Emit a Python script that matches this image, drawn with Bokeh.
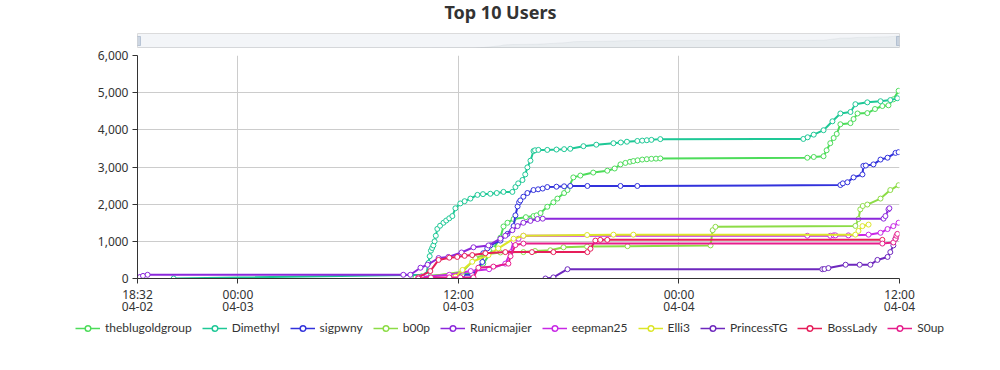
import pandas as pd
from bokeh.plotting import figure
from bokeh.models import (ColumnDataSource, FixedTicker, Legend, LegendItem,
                          Range1d, Label)
from bokeh.embed import file_html
from bokeh.resources import INLINE

YEAR = "2024"
FONT = "Noto Sans"
LEGEND_FONT = "Lato"

names = ["theblugoldgroup", "Dimethyl", "sigpwny", "b00p", "Runicmajier",
         "eepman25", "Elli3", "PrincessTG", "BossLady", "S0up"]
colors = ["#4ddc5a", "#1ec896", "#3232dc", "#8cdc46", "#8c28dc",
          "#c828e6", "#dce628", "#6e28be", "#e61e5a", "#e61e8c"]

theblugoldgroup_t = ["04-03 09:40", "04-03 10:00", "04-03 12:45", "04-03 13:21", "04-03 13:54", "04-03 14:17",
                     "04-03 14:27", "04-03 14:40", "04-03 15:00", "04-03 15:40", "04-03 16:05", "04-03 16:15",
                     "04-03 16:28", "04-03 16:50", "04-03 17:10", "04-03 17:23", "04-03 17:45", "04-03 17:56",
                     "04-03 18:15", "04-03 18:38", "04-03 19:20", "04-03 20:06", "04-03 20:30", "04-03 20:49",
                     "04-03 21:05", "04-03 21:20", "04-03 21:31", "04-03 21:45", "04-03 22:00", "04-03 22:15",
                     "04-03 22:30", "04-03 22:45", "04-03 22:59", "04-04 06:59", "04-04 07:20", "04-04 07:52",
                     "04-04 08:02", "04-04 08:14", "04-04 08:25", "04-04 08:35", "04-04 08:47", "04-04 09:20",
                     "04-04 09:30", "04-04 09:43", "04-04 10:15", "04-04 10:40", "04-04 11:04", "04-04 11:24",
                     "04-04 11:40", "04-04 11:57"]
theblugoldgroup_v = [30, 60, 150, 400, 800, 1100, 1400, 1500, 1600, 1650, 1680, 1700, 1760, 1930, 2050, 2150,
                     2300, 2380, 2720, 2770, 2850, 2900, 2960, 3070, 3110, 3140, 3160, 3180, 3200, 3210, 3220,
                     3225, 3230, 3250, 3270, 3290, 3450, 3640, 3780, 3890, 4150, 4180, 4290, 4440, 4450, 4560,
                     4640, 4660, 4820, 5050]

dimethyl_t = ["04-02 20:30", "04-03 10:15", "04-03 10:22", "04-03 10:26", "04-03 10:30", "04-03 10:34",
              "04-03 10:38", "04-03 10:42", "04-03 10:46", "04-03 10:51", "04-03 11:00", "04-03 11:11",
              "04-03 11:20", "04-03 11:30", "04-03 11:40", "04-03 11:50", "04-03 12:06", "04-03 12:20",
              "04-03 12:39", "04-03 13:02", "04-03 13:20", "04-03 13:44", "04-03 14:05", "04-03 14:27",
              "04-03 14:56", "04-03 15:06", "04-03 15:15", "04-03 15:29", "04-03 15:38", "04-03 15:45",
              "04-03 15:55", "04-03 16:05", "04-03 16:10", "04-03 16:21", "04-03 16:50", "04-03 17:20",
              "04-03 17:45", "04-03 18:05", "04-03 18:48", "04-03 19:30", "04-03 20:26", "04-03 20:50",
              "04-03 21:10", "04-03 21:44", "04-03 22:00", "04-03 22:15", "04-03 22:30", "04-03 22:59",
              "04-04 06:46", "04-04 07:00", "04-04 07:20", "04-04 07:52", "04-04 08:21", "04-04 08:47",
              "04-04 09:20", "04-04 09:36", "04-04 10:15", "04-04 10:58", "04-04 11:30", "04-04 11:53"]
dimethyl_v = [0, 100, 420, 600, 750, 820, 890, 1000, 1150, 1335, 1420, 1500, 1560, 1620, 1680, 1890, 2020,
              2080, 2150, 2250, 2270, 2280, 2300, 2330, 2330, 2460, 2560, 2650, 2800, 2990, 3170, 3430, 3450,
              3460, 3460, 3470, 3480, 3490, 3560, 3600, 3640, 3660, 3680, 3700, 3710, 3720, 3730, 3750, 3755,
              3800, 3870, 3990, 4230, 4440, 4480, 4690, 4740, 4770, 4800, 4850]

sigpwny_t = ["04-03 12:13", "04-03 12:45", "04-03 13:18", "04-03 13:21", "04-03 13:34", "04-03 13:44",
             "04-03 14:17", "04-03 14:40", "04-03 15:00", "04-03 15:06", "04-03 15:13", "04-03 15:18",
             "04-03 15:22", "04-03 15:32", "04-03 15:45", "04-03 16:05", "04-03 16:20", "04-03 16:35",
             "04-03 16:50", "04-03 17:20", "04-03 17:45", "04-03 18:05", "04-03 19:01", "04-03 20:49",
             "04-03 21:44", "04-04 08:47", "04-04 08:55", "04-04 09:10", "04-04 09:30", "04-04 09:59",
             "04-04 10:02", "04-04 10:10", "04-04 10:35", "04-04 10:58", "04-04 11:21", "04-04 11:47",
             "04-04 11:57"]
sigpwny_v = [100, 100, 445, 680, 810, 890, 1020, 1200, 1410, 1700, 1940, 2050, 2100, 2200, 2300, 2380, 2400,
             2420, 2460, 2470, 2480, 2490, 2490, 2490, 2490, 2515, 2560, 2590, 2720, 2800, 3030, 3040, 3070,
             3200, 3250, 3380, 3400]

b00p_t = ["04-03 10:00", "04-03 12:13", "04-03 12:55", "04-03 13:30", "04-03 14:17", "04-03 15:32",
          "04-03 16:10", "04-03 17:00", "04-03 17:43", "04-03 19:00", "04-03 21:12", "04-04 01:43",
          "04-04 01:50", "04-04 01:59", "04-04 09:36", "04-04 09:46", "04-04 09:52", "04-04 10:00",
          "04-04 10:15", "04-04 10:58", "04-04 11:30", "04-04 11:57"]
b00p_v = [30, 180, 550, 650, 700, 710, 740, 760, 840, 860, 870, 890, 1300, 1390, 1415, 1600, 1860, 1950,
          1990, 2150, 2380, 2510]

runicmajier_t = ["04-02 18:32", "04-02 18:40", "04-02 18:50", "04-02 19:05", "04-03 09:00", "04-03 09:23",
                 "04-03 09:56", "04-03 10:19", "04-03 10:55", "04-03 11:27", "04-03 12:10", "04-03 12:49",
                 "04-03 13:38", "04-03 14:17", "04-03 14:33", "04-03 14:56", "04-03 15:13", "04-03 15:32",
                 "04-03 15:55", "04-03 16:18", "04-03 16:35", "04-04 11:08", "04-04 11:14", "04-04 11:24",
                 "04-04 11:27"]
runicmajier_v = [10, 40, 70, 100, 100, 100, 290, 370, 550, 580, 700, 840, 890, 1070, 1150, 1300, 1410, 1500,
                 1550, 1600, 1610, 1610, 1680, 1860, 1890]

eepman25_t = ["04-03 10:00", "04-03 11:30", "04-03 12:40", "04-03 13:40", "04-03 14:33", "04-03 14:50",
              "04-03 15:00", "04-03 15:16", "04-03 15:32", "04-04 06:59", "04-04 08:14", "04-04 08:25",
              "04-04 08:31", "04-04 09:13", "04-04 10:19", "04-04 10:58", "04-04 11:21", "04-04 11:40",
              "04-04 11:57"]
eepman25_v = [40, 100, 200, 250, 400, 700, 1000, 1070, 1150, 1150, 1150, 1160, 1160, 1160, 1180, 1230, 1330,
              1410, 1500]

elli3_t = ["04-03 11:50", "04-03 12:13", "04-03 12:45", "04-03 13:38", "04-03 14:10", "04-03 15:00",
           "04-03 15:32", "04-03 19:00", "04-03 20:26", "04-03 21:31", "04-04 09:36", "04-04 09:46",
           "04-04 09:59", "04-04 10:19"]
elli3_v = [50, 230, 450, 630, 810, 1070, 1150, 1170, 1180, 1180, 1180, 1280, 1410, 1450]

princesstg_t = ["04-03 16:44", "04-03 17:10", "04-03 17:56", "04-04 07:48", "04-04 07:55", "04-04 08:08",
                "04-04 09:04", "04-04 09:50", "04-04 10:25", "04-04 10:48", "04-04 11:21", "04-04 11:30",
                "04-04 11:40", "04-04 11:47"]
princesstg_v = [0, 30, 250, 250, 255, 280, 370, 370, 370, 500, 580, 710, 890, 1070]

bosslady_t = ["04-03 09:49", "04-03 10:28", "04-03 10:55", "04-03 11:30", "04-03 11:56", "04-03 12:20",
              "04-03 12:45", "04-03 13:28", "04-03 14:33", "04-03 16:00", "04-03 17:10", "04-03 19:01",
              "04-03 19:11", "04-03 19:27", "04-03 19:43", "04-03 20:06", "04-04 11:04"]
bosslady_v = [30, 200, 500, 560, 580, 610, 630, 680, 710, 710, 710, 710, 800, 1020, 1040, 1040, 1040]

s0up_t = ["04-03 09:49", "04-03 10:30", "04-03 11:30", "04-03 12:06", "04-03 12:49", "04-03 13:05",
          "04-03 13:54", "04-03 14:43", "04-03 14:50", "04-03 15:06", "04-03 15:32", "04-04 11:04",
          "04-04 11:40", "04-04 11:47", "04-04 11:50", "04-04 11:53"]
s0up_v = [0, 30, 30, 30, 30, 290, 320, 400, 600, 900, 940, 940, 970, 1070, 1150, 1200]

series_t = [theblugoldgroup_t, dimethyl_t, sigpwny_t, b00p_t, runicmajier_t,
            eepman25_t, elli3_t, princesstg_t, bosslady_t, s0up_t]
series_v = [theblugoldgroup_v, dimethyl_v, sigpwny_v, b00p_v, runicmajier_v,
            eepman25_v, elli3_v, princesstg_v, bosslady_v, s0up_v]

title_text = "Top 10 Users"
x_start = "04-02 18:32"
x_end = "04-04 12:00"
tick_times = ["04-02 18:32", "04-03 00:00", "04-03 12:00", "04-04 00:00", "04-04 12:00"]
tick_labels = ["18:32\n04-02", "00:00\n04-03", "12:00\n04-03", "00:00\n04-04", "12:00\n04-04"]
y_ticks = [0, 1000, 2000, 3000, 4000, 5000, 6000]
y_labels = ["0", "1,000", "2,000", "3,000", "4,000", "5,000", "6,000"]


def to_dt(items):
    return pd.to_datetime([YEAR + "-" + s for s in items], format="%Y-%m-%d %H:%M")


def to_ms(s):
    return pd.Timestamp(YEAR + "-" + s).value / 1e6


xr = Range1d(start=to_ms(x_start), end=to_ms(x_end))

W = 992
LEFT = 137
FRAME_W = 762
RIGHT = W - LEFT - FRAME_W


def bare(fig):
    fig.axis.visible = False
    fig.grid.visible = False
    fig.outline_line_color = None
    return fig


# ---- title strip ----
pt = bare(figure(width=W, height=33, x_range=Range1d(0, 1), y_range=Range1d(0, 1),
                 output_backend="svg", toolbar_location=None,
                 min_border_left=0, min_border_right=0, min_border_top=0, min_border_bottom=0))
pt.add_layout(Label(x=500, y=22, x_units="screen", y_units="screen", text=title_text,
                    text_align="center", text_baseline="middle", text_font=FONT,
                    text_font_size="18px", text_font_style="bold", text_color="#333333"))

# ---- data zoom slider ----
ps = figure(width=W, height=15, x_range=xr, y_range=Range1d(0, 1),
            output_backend="svg", toolbar_location=None,
            min_border_left=LEFT, min_border_right=RIGHT, min_border_top=0, min_border_bottom=0)
bare(ps)
ps.outline_line_color = "#dddddd"
shadow_x = to_dt(theblugoldgroup_t)
vmax = 6000.0
shadow = ColumnDataSource(dict(x=[xr.start] + list(shadow_x.astype("int64") / 1e6) + [xr.end],
                               y=[0] + [v / vmax for v in theblugoldgroup_v] + [theblugoldgroup_v[-1] / vmax]))
ps.varea(x="x", y1=0, y2="y", source=shadow, fill_color="#2f4554", fill_alpha=0.05)
ps.line("x", "y", source=shadow, line_color="#2f4554", line_alpha=0.12, line_width=0.5)
ps.quad(left=[xr.start], right=[xr.end], bottom=[0], top=[1],
        fill_color="#a7b7cc", fill_alpha=0.14, line_color=None)
hw = (xr.end - xr.start) / FRAME_W * 3
ps.quad(left=[xr.start - hw, xr.end - hw], right=[xr.start + hw, xr.end + hw],
        bottom=[0.2, 0.2], top=[0.8, 0.8], fill_color="#a7b7cc", fill_alpha=0.5,
        line_color="#8fa3bd", line_alpha=0.5)

# ---- main chart ----
p = figure(width=W, height=270, x_axis_type="datetime", x_range=xr,
           y_range=Range1d(0, 6000), output_backend="svg", toolbar_location=None,
           min_border_left=LEFT, min_border_right=RIGHT, min_border_top=7, min_border_bottom=34)
p.outline_line_color = None
p.background_fill_color = "white"

p.xaxis.ticker = FixedTicker(ticks=[to_ms(t) for t in tick_times])
p.xaxis.major_label_overrides = {to_ms(t): l for t, l in zip(tick_times, tick_labels)}
p.yaxis.ticker = FixedTicker(ticks=y_ticks)
p.yaxis.major_label_overrides = {t: l for t, l in zip(y_ticks, y_labels)}
for ax in (p.xaxis, p.yaxis):
    ax.axis_line_color = "#333333"
    ax.major_tick_line_color = "#333333"
    ax.major_tick_out = 5
    ax.major_tick_in = 0
    ax.minor_tick_line_color = None
    ax.major_label_text_color = "#333333"
    ax.major_label_text_font = FONT
    ax.major_label_text_font_size = "12px"
p.xaxis.major_label_text_line_height = 0.75
p.xaxis.major_label_standoff = 2
p.yaxis.major_label_standoff = 4
p.xgrid.ticker = p.xaxis.ticker
p.ygrid.ticker = p.yaxis.ticker
p.grid.grid_line_color = "#cccccc"
p.grid.grid_line_width = 1

for name, col, ts, vs in zip(names, colors, series_t, series_v):
    src = ColumnDataSource(dict(x=to_dt(ts), y=vs))
    p.line("x", "y", source=src, line_color=col, line_width=2)
    p.scatter("x", "y", source=src, marker="circle", size=5, fill_color="white",
              line_color=col, line_width=1)

# ---- legend strip ----
pl = bare(figure(width=W, height=44, x_range=Range1d(0, 1), y_range=Range1d(0, 1),
                 output_backend="svg", toolbar_location=None,
                 min_border_left=0, min_border_right=0, min_border_top=0, min_border_bottom=0))
items = []
for name, col in zip(names, colors):
    off = ColumnDataSource(dict(x=[-10, -9], y=[-10, -10]))
    lr = pl.line("x", "y", source=off, line_color=col, line_width=1.5)
    sr = pl.scatter("x", "y", source=off, marker="circle", size=11, fill_color="white",
                    line_color=col, line_width=1.5)
    items.append(LegendItem(label=name, renderers=[lr, sr]))
legend = Legend(items=items, orientation="horizontal", location=(75, 27),
                glyph_width=25, glyph_height=14, label_standoff=5, spacing=10,
                padding=0, margin=0, background_fill_alpha=0, border_line_alpha=0,
                label_text_font=LEGEND_FONT, label_text_font_size="12px",
                label_text_color="#333333", label_height=14)
pl.add_layout(legend)

open("out.html", "w").write(file_html([pt, ps, p, pl], INLINE))
